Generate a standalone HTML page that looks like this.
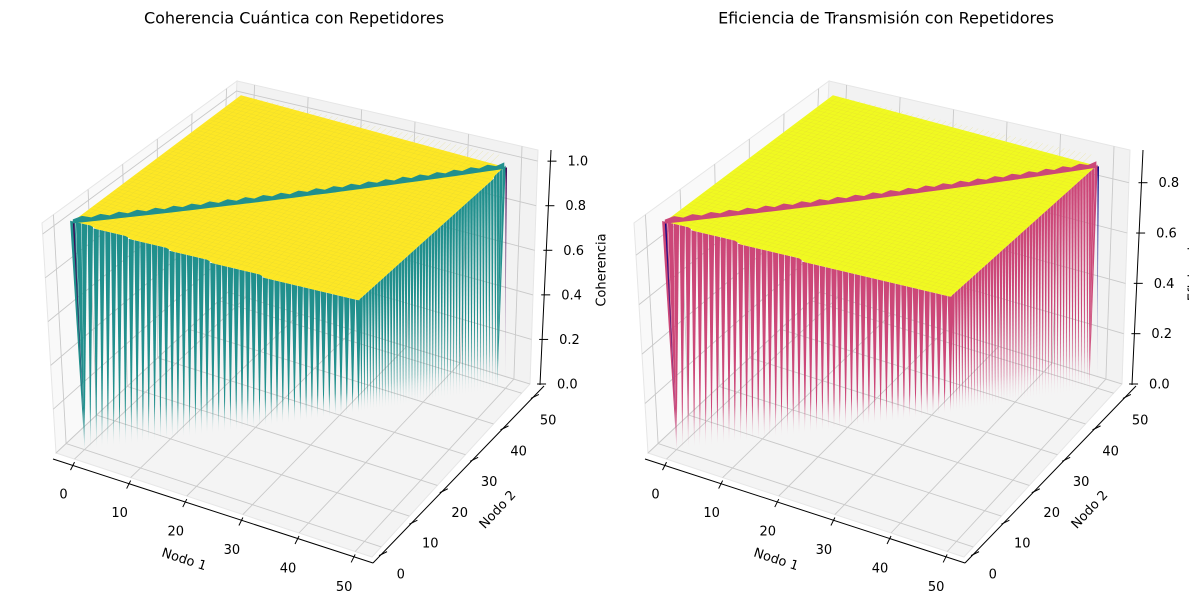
<!DOCTYPE html>
<html><head><meta charset="utf-8"><style>
html,body{margin:0;padding:0;background:#fff}
svg{display:block;font-family:"DejaVu Sans","Liberation Sans",sans-serif}
</style></head><body>
<svg id="fig" width="1189" height="609" viewBox="0 0 1189 609">
<defs>
<linearGradient id="gTeal" x1="0" y1="0" x2="0" y2="1"><stop offset="0" stop-color="#21908d"/><stop offset="0.82" stop-color="#21908d"/><stop offset="1" stop-color="#21908d" stop-opacity="0.1"/></linearGradient>
<linearGradient id="gPink" x1="0" y1="0" x2="0" y2="1"><stop offset="0" stop-color="#cc4778"/><stop offset="0.82" stop-color="#cc4778"/><stop offset="1" stop-color="#cc4778" stop-opacity="0.1"/></linearGradient>
<linearGradient id="gDarkV" x1="0" y1="0" x2="0" y2="1"><stop offset="0" stop-color="#440154"/><stop offset="1" stop-color="#440154" stop-opacity="0.1"/></linearGradient>
<linearGradient id="gDarkP" x1="0" y1="0" x2="0" y2="1"><stop offset="0" stop-color="#0d0887"/><stop offset="1" stop-color="#0d0887" stop-opacity="0.1"/></linearGradient>
</defs>
<g id="p0"></g>
<g id="p1"></g>
</svg>
<script>
const nodos = [0,1,2,3,4,5,6,7,8,9,10,11,12,13,14,15,16,17,18,19,20,21,22,23,24,25,26,27,28,29,30,31,32,33,34,35,36,37,38,39,40,41,42,43,44,45,46,47,48,49];
const xTicks = [0,10,20,30,40,50];
const yTicks = [0,10,20,30,40,50];
const zTicksCoh = [0,0.2,0.4,0.6,0.8,1.0];
const zTicksEfi = [0,0.2,0.4,0.6,0.8];
const cohFrente = [1.04,1.04,1.04,1.04,1.03,1.03,1.03,1.03,1.03,1.03,1.02,1.02,1.02,1.02,1.02,1.02,1.02,1.01,1.01,1.01,1.01,1.01,1.01,1.01,1.0,1.0,1.0,1.0,1.0,1.0,1.0,1.0,1.0,0.99,0.99,0.99,0.99,0.99,0.99,0.99,0.99,0.99,0.99,0.99,0.99,0.99,0.99,0.99,0.99,0.99];
const cohLado = [0.99,0.99,0.99,0.99,0.99,0.99,0.99,0.99,0.99,0.99,0.99,0.99,0.99,0.99,0.99,0.99,0.99,0.99,0.99,0.99,0.99,0.99,0.99,0.99,0.99,0.99,0.99,0.99,0.99,0.99,0.99,0.99,0.99,0.99,0.99,0.99,0.99,0.99,0.99,0.99,0.99,0.99,0.99,0.99,0.99,0.99,1.0,1.0,1.0,1.0];
const cohFondo = [1.04, 1.05, 1.0];
const efiFrente = [0.92,0.92,0.92,0.92,0.92,0.91,0.91,0.91,0.91,0.91,0.91,0.91,0.91,0.9,0.9,0.9,0.9,0.9,0.9,0.9,0.9,0.9,0.9,0.9,0.89,0.89,0.89,0.89,0.89,0.89,0.89,0.89,0.89,0.89,0.89,0.89,0.89,0.89,0.89,0.89,0.89,0.89,0.89,0.89,0.89,0.89,0.89,0.89,0.89,0.89];
const efiLado = [0.89,0.89,0.89,0.89,0.89,0.89,0.89,0.89,0.89,0.89,0.89,0.89,0.89,0.89,0.89,0.89,0.89,0.89,0.89,0.89,0.89,0.89,0.89,0.89,0.89,0.89,0.89,0.89,0.89,0.89,0.89,0.89,0.89,0.89,0.89,0.89,0.89,0.89,0.89,0.89,0.89,0.89,0.89,0.89,0.89,0.89,0.89,0.89,0.89,0.89];
const efiFondo = [0.92, 0.93, 0.89];

const NS = "http://www.w3.org/2000/svg";
function mk(parent, tag, attrs, text){
  const e = document.createElementNS(NS, tag);
  for (const k in attrs) e.setAttribute(k, attrs[k]);
  if (text !== undefined) e.textContent = text;
  parent.appendChild(e); return e;
}
const XL = [-3.3, 53], YL = [-3.3, 53];
function makePanel(dx, zmax){
  const A={f:[56+dx,453],t:[42+dx,223]}, B={f:[372+dx,557],t:[372+dx,300]},
        C={f:[530+dx,384],t:[538+dx,150]}, D={f:[228+dx,292],t:[237+dx,81]};
  function P(u,v,w){
    const a=(1-u)*(1-v), b=u*(1-v), c=u*v, d=(1-u)*v;
    const fx=a*A.f[0]+b*B.f[0]+c*C.f[0]+d*D.f[0], fy=a*A.f[1]+b*B.f[1]+c*C.f[1]+d*D.f[1];
    const tx=a*A.t[0]+b*B.t[0]+c*C.t[0]+d*D.t[0], ty=a*A.t[1]+b*B.t[1]+c*C.t[1]+d*D.t[1];
    return [fx+(tx-fx)*w, fy+(ty-fy)*w];
  }
  const ux = x => (x-XL[0])/(XL[1]-XL[0]);
  const vy = y => (y-YL[0])/(YL[1]-YL[0]);
  const wz = z => z/zmax;
  const proj = (x,y,z) => P(ux(x), vy(y), wz(z));
  return {A,B,C,D,P,ux,vy,wz,proj,dx};
}
function pts(arr){ return arr.map(p=>p[0].toFixed(1)+","+p[1].toFixed(1)).join(" "); }

function drawPanel(g, pn, cfg){
  const {P,ux,vy,wz,proj,dx} = pn;
  let e;
  e = mk(g,"polygon",{points:pts([P(0,0,0),P(1,0,0),P(1,1,0),P(0,1,0)]),fill:"#f4f4f4",stroke:"#e6e6e6"});
   
  e = mk(g,"polygon",{points:pts([P(0,0,0),P(0,1,0),P(0,1,1),P(0,0,1)]),fill:"#f9f9f9",stroke:"#e6e6e6"});
   
  e = mk(g,"polygon",{points:pts([P(0,1,0),P(1,1,0),P(1,1,1),P(0,1,1)]),fill:"#f2f2f2",stroke:"#e6e6e6"});
   
  const gs = {stroke:"#c9c9c9","stroke-width":0.9,fill:"none"};
  xTicks.forEach(t=>{
    const u=ux(t);
    e = mk(g,"polyline",Object.assign({points:pts([P(u,0,0),P(u,1,0),P(u,1,1)])},gs));
     
  });
  yTicks.forEach(t=>{
    const v=vy(t);
    e = mk(g,"polyline",Object.assign({points:pts([P(1,v,0),P(0,v,0),P(0,v,1)])},gs));
     
  });
  cfg.zt.forEach(t=>{
    const w=wz(t);
    e = mk(g,"polyline",Object.assign({points:pts([P(0,0,w),P(0,1,w),P(1,1,w)])},gs));
     
  });
  const ax = {stroke:"#000","stroke-width":1};
  const a0=P(0,0,0), a1=P(1,0,0);
  e = mk(g,"line",Object.assign({x1:a0[0]-3,y1:a0[1]+6,x2:a1[0]+1,y2:a1[1]+6},ax));
   
  xTicks.forEach(t=>{
    const p=P(ux(t),0,0); const q=[p[0]-2,p[1]+7];
    e = mk(g,"line",Object.assign({x1:q[0]+2,y1:q[1]-4,x2:q[0]-2,y2:q[1]+4},ax));
     
    e = mk(g,"text",{x:p[0]-11,y:p[1]+36,"font-size":13,"text-anchor":"middle","dominant-baseline":"middle",fill:"#000"},String(t));
     
  });
  const b0=P(1,0,0), b1=P(1,1,0);
  e = mk(g,"line",Object.assign({x1:b0[0]+1,y1:b0[1]+6,x2:b1[0]+14,y2:b1[1]+2},ax));
   
  yTicks.forEach(t=>{
    const v=vy(t); const p=P(1,v,0); const q=[p[0]+1+13*v, p[1]+6-4*v];
    e = mk(g,"line",Object.assign({x1:q[0]+4,y1:q[1]-1,x2:q[0]-4,y2:q[1]+3},ax));
     
    e = mk(g,"text",{x:p[0]+19+8*v,y:p[1]+28,"font-size":13,"text-anchor":"middle","dominant-baseline":"middle",fill:"#000"},String(t));
     
  });
  const zb=[540+dx,385], zt=[551+dx,150];
  e = mk(g,"line",Object.assign({x1:zb[0],y1:zb[1],x2:zt[0],y2:zt[1]},ax));
   
  cfg.zt.forEach(t=>{
    const w=wz(t); const p=P(1,1,w); const x=zb[0]+(zt[0]-zb[0])*((zb[1]-p[1])/(zb[1]-zt[1]));
    e = mk(g,"line",Object.assign({x1:x-3,y1:p[1],x2:x+6,y2:p[1]},ax));
     
    e = mk(g,"text",{x:x+17,y:p[1]+1,"font-size":13,"dominant-baseline":"middle",fill:"#000"},t.toFixed(1));
     
  });
  const n = nodos.length, last = nodos[n-1];
  function tipAt(X){
    let lo=nodos[0], hi=last;
    for (let k=0;k<30;k++){ const m=(lo+hi)/2; if (proj(m,m,0)[0] < X) lo=m; else hi=m; }
    return proj(lo,lo,0);
  }
  const hw = 0.46;
  for (let j=n-1;j>=0;j--){
    const y=nodos[j], h=cfg.lado[j];
    const p1=proj(last, y-hw, h), p2=proj(last, y+hw, h);
    const tip=tipAt((p1[0]+p2[0])/2);
    e = mk(g,"polygon",{points:pts([p1,p2,tip]),fill:cfg.grad});
     
  }
  for (let i=0;i<n;i++){
    const x=nodos[i], h=cfg.frente[i];
    const p1=proj(x-hw, 0, h), p2=proj(x+hw, 0, h);
    const tip=tipAt((p1[0]+p2[0])/2);
    e = mk(g,"polygon",{points:pts([p1,p2,tip]),fill:cfg.grad});
     
  }
  const l0=proj(0,0,cfg.frente[0]), l1=tipAt(l0[0]+1);
  e = mk(g,"polygon",{points:pts([l0,[l0[0]+1.5,l0[1]],[l1[0]+0.5,l1[1]]]),fill:cfg.dark});
   
  const r0=proj(last+0.5,last,cfg.lado[n-1]), r1=[r0[0]-2,r0[1]+215];
  e = mk(g,"polygon",{points:pts([r0,[r0[0]-1.5,r0[1]],r1]),fill:cfg.dark});
   
  const back=[proj(0,0,cfg.fondo[0]),proj(0,last,cfg.fondo[1]),proj(last,last,cfg.fondo[2])];
  e = mk(g,"polygon",{points:pts(back),fill:cfg.top});
   
  const front=[];
  for (let i=0;i<n;i++) front.push(proj(nodos[i],0,cfg.frente[i]));
  for (let j=0;j<n;j++) front.push(proj(last,nodos[j],cfg.lado[j]));
  e = mk(g,"polygon",{points:pts(front),fill:cfg.top});
   
  for (let i=1;i<n-1;i++){
    const a=proj(nodos[i],0.3,cfg.frente[i]), c=proj(nodos[i],last,cfg.fondo[1]);
    e = mk(g,"line",{x1:a[0],y1:a[1],x2:c[0],y2:c[1],stroke:cfg.mesh,"stroke-width":0.5,"stroke-opacity":0.4});
     
    const d=proj(0,nodos[i],cfg.fondo[0]), h=proj(last-0.3,nodos[i],cfg.lado[i]);
    e = mk(g,"line",{x1:d[0],y1:d[1],x2:h[0],y2:h[1],stroke:cfg.mesh,"stroke-width":0.5,"stroke-opacity":0.4});
     
  }
  const ridgeTop=[], ridgeBot=[];
  for (let i=0;i<n;i++){
    const hz = cfg.fondo[0] + (cfg.fondo[2]-cfg.fondo[0])*i/(n-1);
    const p=proj(nodos[i],nodos[i],hz);
    ridgeTop.push([p[0], p[1]-(i%2?4.5:2)]);
    ridgeBot.unshift([p[0], p[1]+2]);
  }
  e = mk(g,"polygon",{points:pts(ridgeTop.concat(ridgeBot)),fill:cfg.ridge});
   
  e = mk(g,"text",{x:184+dx,y:560,"font-size":13,"text-anchor":"middle","dominant-baseline":"middle",transform:`rotate(18 ${184+dx} 560)`},"Nodo 1");
   
  e = mk(g,"text",{x:498+dx,y:510,"font-size":13,"text-anchor":"middle","dominant-baseline":"middle",transform:`rotate(-47 ${498+dx} 510)`},"Nodo 2");
   
  e = mk(g,"text",{x:294+dx,y:19,"font-size":16,"text-anchor":"middle","dominant-baseline":"middle"},cfg.title);
   
}
const p0=makePanel(0,1.05), p1=makePanel(592,0.93);
drawPanel(document.getElementById('p0'),p0,{zt:zTicksCoh,frente:cohFrente,lado:cohLado,fondo:cohFondo,grad:"url(#gTeal)",top:"#fde725",ridge:"#21908d",dark:"url(#gDarkV)",mesh:"#d9cf3a",title:"Coherencia Cuántica con Repetidores"});
const fig=document.getElementById('fig');
let zl = mk(fig,"text",{x:602,y:270,"font-size":13,"text-anchor":"middle","dominant-baseline":"middle",transform:"rotate(-90 602 270)"},"Coherencia");
 
const g1=document.getElementById('p1');
fig.appendChild(g1);
let bg = mk(g1,"rect",{x:606,y:40,width:583,height:569,fill:"#fff"});
 
drawPanel(g1,p1,{zt:zTicksEfi,frente:efiFrente,lado:efiLado,fondo:efiFondo,grad:"url(#gPink)",top:"#f0f921",ridge:"#cc4778",dark:"url(#gDarkP)",mesh:"#e0d43a",title:"Eficiencia de Transmisión con Repetidores"});
let zl2 = mk(g1,"text",{x:1194,y:270,"font-size":13,"text-anchor":"middle","dominant-baseline":"middle",transform:"rotate(-90 1194 270)"},"Eficiencia");
 
</script>
</body></html>
